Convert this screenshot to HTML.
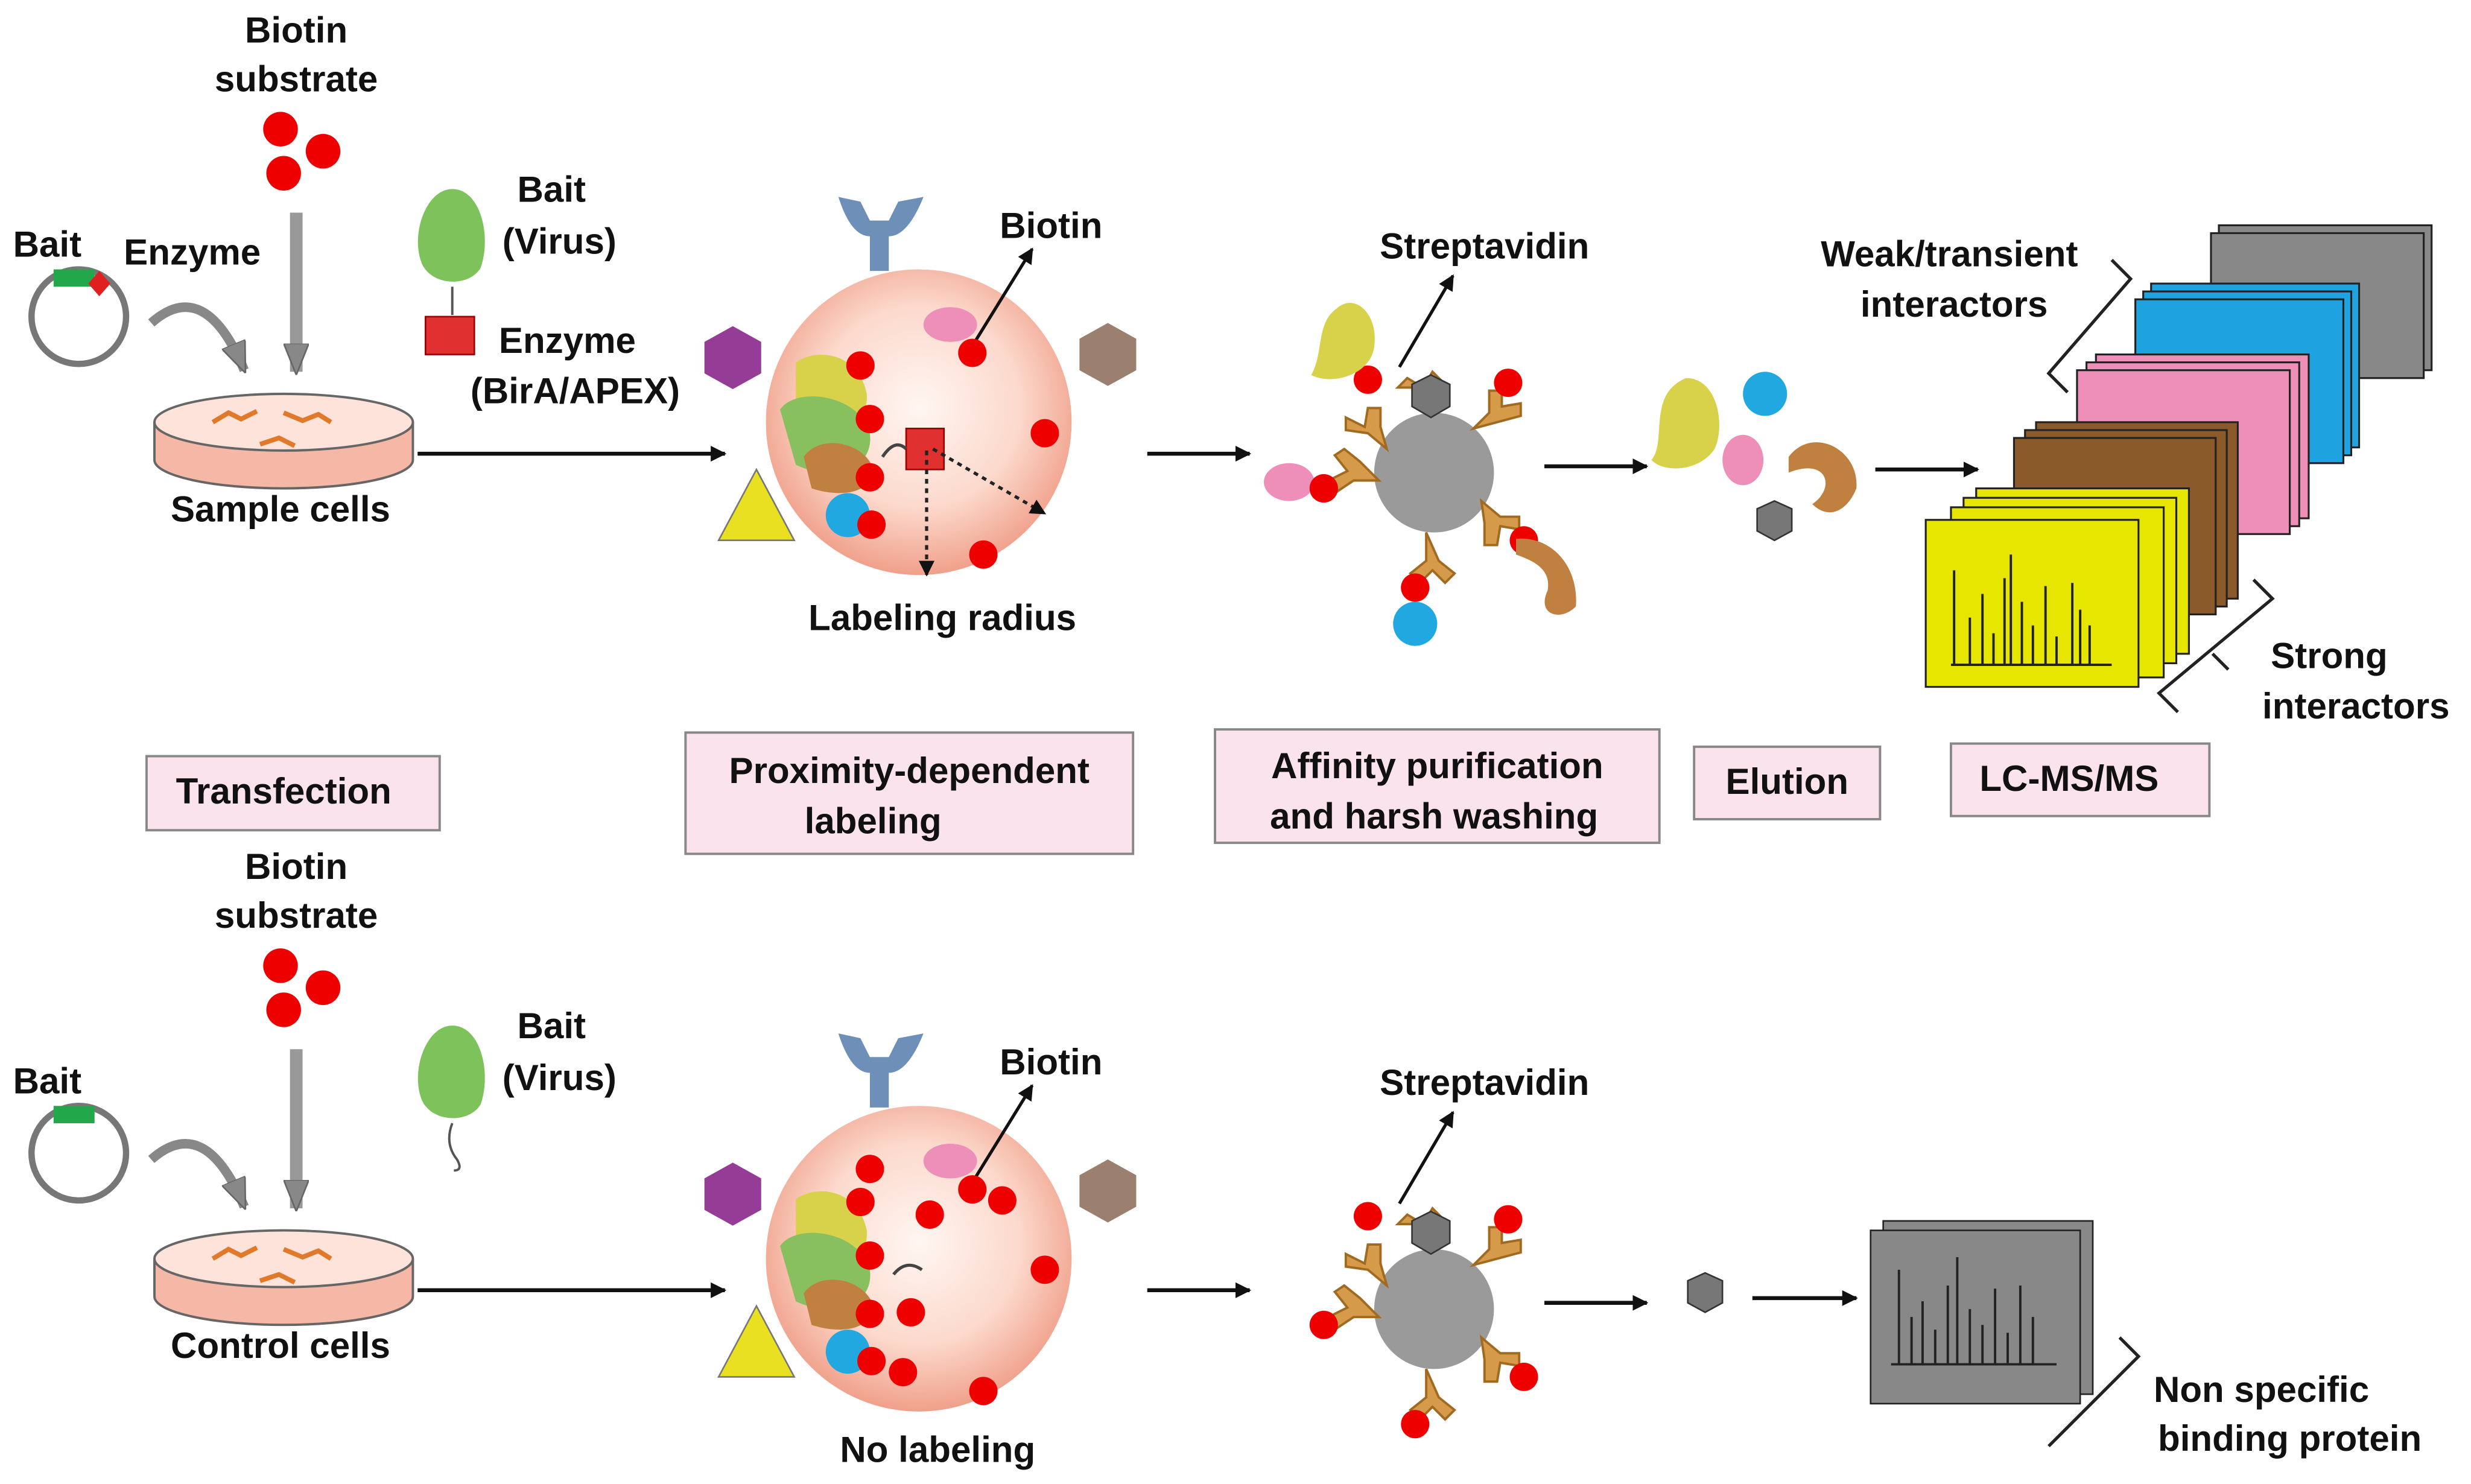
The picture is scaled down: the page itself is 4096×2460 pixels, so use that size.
<!DOCTYPE html>
<html><head><meta charset="utf-8"><style>
html,body{margin:0;padding:0;background:#fff;}
svg{display:block}
text{font-family:"Liberation Sans",Arial,sans-serif;font-weight:bold;fill:#111;font-size:23px;text-anchor:middle}
</style></head><body>
<svg width="4096" height="2460" viewBox="0 0 1568 942" preserveAspectRatio="none" xmlns="http://www.w3.org/2000/svg">
<defs>
<radialGradient id="cell" cx="50%" cy="45%" r="55%">
<stop offset="0" stop-color="#fff6f2"/><stop offset="0.6" stop-color="#fcd9cc"/><stop offset="1" stop-color="#f0a08a"/></radialGradient>
<marker id="ah" markerWidth="10" markerHeight="10" refX="9" refY="5" orient="auto" markerUnits="userSpaceOnUse"><path d="M0,0 L10,5 L0,10 z" fill="#111"/></marker>
<marker id="gah" markerWidth="20" markerHeight="16" refX="18" refY="8" orient="auto" markerUnits="userSpaceOnUse"><path d="M0,0 L20,8 L0,16 z" fill="#888" stroke="#666"/></marker>
<g id="dish">
<path d="M98,268 L98,292 A82,18 0 0 0 262,292 L262,268" fill="#f5b8a6" stroke="#666" stroke-width="1.5"/>
<ellipse cx="180" cy="268" rx="82" ry="18" fill="#fde3da" stroke="#666" stroke-width="1.5"/>
<path d="M135,268 l10,-6 l8,4 l10,-5 M180,262 l12,5 l10,-4 l8,5 M165,282 l12,-4 l10,5" stroke="#e07a2a" stroke-width="3" fill="none"/>
</g>
<g id="common">
<text x="188" y="27">Biotin</text><text x="188" y="58">substrate</text>
<circle cx="178" cy="82" r="11" fill="#e00"/><circle cx="205" cy="96" r="11" fill="#e00"/><circle cx="180" cy="110" r="11" fill="#e00"/>
<line x1="188" y1="135" x2="188" y2="236" stroke="#999" stroke-width="8" marker-end="url(#gah)"/>
<circle cx="50" cy="201" r="30" fill="none" stroke="#777" stroke-width="4"/>
<rect x="34" y="171" width="26" height="11" fill="#22a84a"/>
<path d="M96,205 Q130,175 155,235" fill="none" stroke="#888" stroke-width="6" marker-end="url(#gah)"/>
<use href="#dish"/>
<line x1="265" y1="288" x2="460" y2="288" stroke="#111" stroke-width="2.5" marker-end="url(#ah)"/>
<path d="M287,120 C305,120 312,150 305,170 C298,182 275,182 268,168 C260,150 270,120 287,120 z" fill="#7dc25a"/>
<text x="350" y="128">Bait</text><text x="355" y="161">(Virus)</text>
<circle cx="583" cy="268" r="97" fill="url(#cell)"/>
<path d="M532,125 Q540,150 552,150 L552,172 L564,172 L564,150 Q576,150 586,125 L570,128 L564,140 L552,140 L546,128 z" fill="#6e8fb8"/>
<polygon points="465,207 483,217 483,237 465,247 447,237 447,217" fill="#943c96"/>
<polygon points="703,205 721,215 721,235 703,245 685,235 685,215" fill="#9b8070"/>
<polygon points="480,298 504,343 456,343" fill="#e8e020" stroke="#777"/>
<ellipse cx="603" cy="206" rx="17" ry="11" fill="#ee8fba"/>
<text x="667" y="151">Biotin</text>
<line x1="618" y1="218" x2="655" y2="158" stroke="#111" stroke-width="2" marker-end="url(#ah)"/>
<path d="M505,230 C520,220 545,225 550,250 C552,275 520,280 505,265 z" fill="#d8d24a"/>
<path d="M495,260 C505,245 545,250 552,275 C555,300 525,305 505,295 z" fill="#88c060"/>
<path d="M510,290 C520,275 550,280 555,300 C550,315 530,315 515,310 z" fill="#c08040"/>
<circle cx="538" cy="327" r="14" fill="#22a8e0"/>
<circle cx="546" cy="232" r="9" fill="#e00"/><circle cx="552" cy="266" r="9" fill="#e00"/><circle cx="617" cy="224" r="9" fill="#e00"/><circle cx="663" cy="275" r="9" fill="#e00"/><circle cx="624" cy="352" r="9" fill="#e00"/><circle cx="553" cy="333" r="9" fill="#e00"/><circle cx="552" cy="303" r="9" fill="#e00"/>
<line x1="728" y1="288" x2="793" y2="288" stroke="#111" stroke-width="2.5" marker-end="url(#ah)"/>
<circle cx="910" cy="300" r="38" fill="#9a9a9a"/>
<g fill="#d59a4a" stroke="#a06a20" stroke-width="1.5">
<path d="M905,262 l0,-6 l-8,-10 l-10,0 l6,-6 l10,6 l6,-10 l6,6 l-6,10 z"/>
<path d="M935,272 l10,-10 l0,-14 l8,0 l0,10 l12,-2 l0,8 z"/>
<path d="M880,285 l-12,-10 l-14,-2 l0,-8 l12,6 l2,-12 l8,0 l0,12 z"/>
<path d="M875,305 l-16,0 l-12,8 l-4,-8 l12,-6 l-8,-10 l6,-4 l10,8 z"/>
<path d="M940,318 l12,10 l12,0 l0,8 l-12,-2 l-2,12 l-8,0 l0,-14 z"/>
<path d="M905,338 l0,18 l-10,8 l6,6 l8,-8 l8,8 l6,-6 l-10,-8 z"/>
</g>
<polygon points="908,238 920,244 920,258 908,265 896,258 896,244" fill="#777" stroke="#333"/>
<circle cx="868" cy="241" r="9" fill="#e00"/><circle cx="957" cy="243" r="9" fill="#e00"/><circle cx="840" cy="310" r="9" fill="#e00"/><circle cx="967" cy="343" r="9" fill="#e00"/><circle cx="898" cy="373" r="9" fill="#e00"/>
<text x="942" y="164">Streptavidin</text>
<line x1="888" y1="233" x2="922" y2="175" stroke="#111" stroke-width="2" marker-end="url(#ah)"/>
<line x1="980" y1="296" x2="1045" y2="296" stroke="#111" stroke-width="2.5" marker-end="url(#ah)"/>
</g>
</defs>
<rect width="1568" height="942" fill="#fff"/>
<!-- TOP -->
<use href="#common"/>
<path d="M63,172 l7,8 l-7,8 l-7,-8 z" fill="#e02020"/>
<text x="30" y="163">Bait</text><text x="122" y="168">Enzyme</text>
<text x="178" y="331">Sample cells</text>
<line x1="287" y1="182" x2="287" y2="200" stroke="#555" stroke-width="1.5"/>
<rect x="270" y="201" width="31" height="24" fill="#e03030" stroke="#900"/>
<text x="360" y="224">Enzyme</text><text x="365" y="256">(BirA/APEX)</text>
<rect x="575" y="272" width="24" height="26" fill="#e03030" stroke="#900"/>
<path d="M560,290 Q568,278 575,285" stroke="#444" stroke-width="2" fill="none"/>
<line x1="588" y1="286" x2="588" y2="365" stroke="#222" stroke-width="2" stroke-dasharray="3,3" marker-end="url(#ah)"/>
<line x1="592" y1="285" x2="663" y2="326" stroke="#222" stroke-width="2" stroke-dasharray="3,3" marker-end="url(#ah)"/>
<text x="598" y="400">Labeling radius</text>
<path d="M848,196 C860,185 875,200 872,220 C870,238 845,245 832,238 C840,225 835,205 848,196 z" fill="#d8d24a"/>
<ellipse cx="818" cy="306" rx="16" ry="12" fill="#ee8fba"/>
<circle cx="898" cy="396" r="14" fill="#22a8e0"/>
<path d="M962,342 C985,340 1002,360 1000,385 C990,395 975,390 982,375 C985,360 970,355 962,352 z" fill="#c08040"/>
<circle cx="840" cy="310" r="9" fill="#e00"/><circle cx="898" cy="373" r="9" fill="#e00"/>
<path d="M1070,240 C1090,240 1095,270 1088,285 C1078,300 1055,300 1048,292 C1058,280 1045,250 1070,240 z" fill="#d8d24a"/>
<circle cx="1120" cy="250" r="14" fill="#22a8e0"/>
<ellipse cx="1106" cy="292" rx="13" ry="16" fill="#ee8fba"/>
<path d="M1135,290 C1150,270 1180,285 1178,310 C1172,325 1160,330 1150,320 C1165,310 1160,290 1135,300 z" fill="#c08040"/>
<polygon points="1126,318 1137,323 1137,337 1126,343 1115,337 1115,323" fill="#777" stroke="#333"/>
<line x1="1190" y1="298" x2="1255" y2="298" stroke="#111" stroke-width="2.5" marker-end="url(#ah)"/>
<g stroke="#222" stroke-width="1.2">
<rect x="1408" y="143" width="135" height="92" fill="#888"/><rect x="1403" y="148" width="135" height="92" fill="#888"/>
<rect x="1365" y="180" width="132" height="104" fill="#1ea2e0"/><rect x="1360" y="185" width="132" height="104" fill="#1ea2e0"/><rect x="1355" y="190" width="132" height="104" fill="#1ea2e0"/>
<rect x="1330" y="225" width="135" height="104" fill="#ee8fba"/><rect x="1324" y="230" width="135" height="104" fill="#ee8fba"/><rect x="1318" y="235" width="135" height="104" fill="#ee8fba"/>
<rect x="1292" y="268" width="128" height="112" fill="#8b5a2b"/><rect x="1285" y="273" width="128" height="112" fill="#8b5a2b"/><rect x="1278" y="278" width="128" height="112" fill="#8b5a2b"/>
<rect x="1254" y="310" width="135" height="105" fill="#e6e600"/><rect x="1246" y="316" width="135" height="105" fill="#e6e600"/><rect x="1238" y="322" width="135" height="108" fill="#e6e600"/><rect x="1222" y="330" width="135" height="106" fill="#e6e600"/>
</g>
<path d="M1238,422 L1340,422 M1240,422 v-60 M1250,422 v-30 M1258,422 v-45 M1265,422 v-20 M1272,422 v-55 M1276,422 v-70 M1283,422 v-40 M1290,422 v-25 M1298,422 v-50 M1305,422 v-18 M1315,422 v-52 M1320,422 v-35 M1326,422 v-25" stroke="#222" stroke-width="1.5"/>
<text x="1237" y="169">Weak/transient</text><text x="1240" y="201">interactors</text>
<path d="M1340,165 l12,12 l-52,60 l12,12" fill="none" stroke="#222" stroke-width="2"/>
<text x="1478" y="424">Strong</text><text x="1495" y="456">interactors</text>
<path d="M1430,368 l12,12 l-72,60 l12,12 M1404,415 l10,10" fill="none" stroke="#222" stroke-width="2"/>
<!-- label boxes -->
<g fill="#fbe3ee" stroke="#888" stroke-width="1.5">
<rect x="93" y="480" width="186" height="47"/><rect x="435" y="465" width="284" height="77"/><rect x="771" y="463" width="282" height="72"/><rect x="1075" y="474" width="118" height="46"/><rect x="1238" y="472" width="164" height="46"/>
</g>
<text x="180" y="510">Transfection</text>
<text x="577" y="497">Proximity-dependent</text><text x="554" y="529">labeling</text>
<text x="912" y="494">Affinity purification</text><text x="910" y="526">and harsh washing</text>
<text x="1134" y="504">Elution</text><text x="1313" y="502">LC-MS/MS</text>
<!-- BOTTOM -->
<g transform="translate(0,531)">
<use href="#common"/>
<text x="30" y="163">Bait</text>
<text x="178" y="331">Control cells</text>
<path d="M287,182 Q282,195 290,205 Q294,212 288,212" stroke="#555" stroke-width="1.5" fill="none"/>
<path d="M567,278 Q575,268 585,275" stroke="#444" stroke-width="2" fill="none"/>
<circle cx="552" cy="211" r="9" fill="#e00"/><circle cx="590" cy="240" r="9" fill="#e00"/><circle cx="636" cy="231" r="9" fill="#e00"/><circle cx="578" cy="302" r="9" fill="#e00"/><circle cx="573" cy="340" r="9" fill="#e00"/>
<text x="595" y="397">No labeling</text>
<polygon points="1082,277 1093,282 1093,296 1082,302 1071,296 1071,282" fill="#777" stroke="#333"/>
<line x1="1112" y1="293" x2="1178" y2="293" stroke="#111" stroke-width="2.5" marker-end="url(#ah)"/>
<rect x="1195" y="244" width="133" height="110" fill="#888" stroke="#222"/><rect x="1187" y="250" width="133" height="110" fill="#888" stroke="#222"/>
<path d="M1200,335 L1305,335 M1205,335 v-60 M1213,335 v-30 M1220,335 v-40 M1228,335 v-22 M1236,335 v-50 M1242,335 v-68 M1250,335 v-35 M1258,335 v-25 M1266,335 v-48 M1274,335 v-20 M1282,335 v-50 M1290,335 v-30" stroke="#222" stroke-width="1.5"/>
<text x="1435" y="359">Non specific</text><text x="1453" y="390">binding protein</text>
<path d="M1345,318 l12,12 l-45,45 l-12,12" fill="none" stroke="#222" stroke-width="2"/>
</g>
</svg>
</body></html>
